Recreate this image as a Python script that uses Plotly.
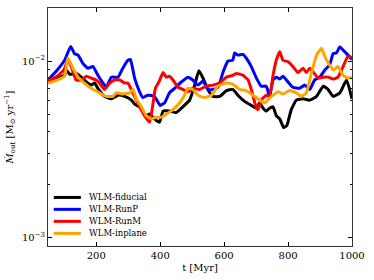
import plotly.graph_objects as go

# ---- data ----
t_fid = [49, 80, 101, 106, 117, 137, 153, 169, 184, 195, 205, 226, 247, 268, 289, 310, 320, 336, 356, 367,
         377, 388, 398, 409, 429, 450, 471, 492, 508, 521, 534, 549, 565, 586, 607, 627, 643, 664, 685, 701,
         711, 722, 732, 742, 753, 763, 774, 786, 796, 810, 826, 847, 868, 889, 910, 925, 941, 962, 983, 1000]
m_fid = [0.0077, 0.0080, 0.0083, 0.0089, 0.0084, 0.0085, 0.0081, 0.0076, 0.0073, 0.0075, 0.0070, 0.0063,
         0.0061, 0.0064, 0.0063, 0.0060, 0.0057, 0.0055, 0.0049, 0.0050, 0.0048, 0.0046, 0.0045, 0.0052,
         0.0052, 0.0051, 0.0055, 0.0060, 0.0073, 0.0088, 0.0080, 0.0069, 0.0063, 0.0063, 0.0068, 0.0069,
         0.0064, 0.0059, 0.0056, 0.0054, 0.0058, 0.0054, 0.0052, 0.0054, 0.0055, 0.0049, 0.0047, 0.0042,
         0.0043, 0.0053, 0.0060, 0.0061, 0.0060, 0.0063, 0.0072, 0.0069, 0.0063, 0.0066, 0.0078, 0.0061]

t_runp = [49, 78, 101, 120, 132, 143, 158, 174, 190, 205, 221, 231, 247, 268, 283, 299, 307, 320, 334, 346,
          361, 382, 400, 414, 429, 445, 466, 487, 502, 518, 534, 549, 565, 581, 597, 612, 627, 633, 643, 659,
          669, 685, 701, 716, 732, 742, 753, 763, 774, 784, 800, 815, 836, 852, 868, 883, 899, 915, 930, 941,
          951, 962, 977, 1000]
m_runp = [0.0078, 0.0089, 0.0101, 0.0121, 0.0110, 0.0108, 0.0097, 0.0091, 0.0093, 0.0083, 0.0075, 0.0071,
          0.0081, 0.0081, 0.0091, 0.0101, 0.0102, 0.0080, 0.0068, 0.0062, 0.0064, 0.0063, 0.0056, 0.0058,
          0.0066, 0.0070, 0.0076, 0.0081, 0.0078, 0.0073, 0.0077, 0.0069, 0.0069, 0.0071, 0.0087, 0.0100,
          0.0101, 0.0111, 0.0108, 0.0109, 0.0104, 0.0093, 0.0080, 0.0072, 0.0072, 0.0063, 0.0078, 0.0081,
          0.0079, 0.0082, 0.0076, 0.0071, 0.0070, 0.0073, 0.0069, 0.0078, 0.0081, 0.0089, 0.0095, 0.0110,
          0.0111, 0.0120, 0.0113, 0.0102]

t_runm = [49, 78, 99, 111, 122, 137, 153, 169, 184, 200, 210, 226, 242, 257, 273, 289, 299, 314, 336, 351,
          367, 379, 385, 396, 409, 419, 429, 440, 456, 471, 487, 502, 523, 544, 565, 586, 607, 627, 638, 659,
          675, 685, 701, 706, 716, 732, 742, 753, 763, 774, 784, 800, 815, 831, 847, 857, 868, 878, 894, 910,
          925, 941, 956, 972, 987, 1000]
m_runm = [0.0077, 0.0082, 0.0089, 0.0101, 0.0093, 0.0078, 0.0078, 0.0082, 0.0080, 0.0078, 0.0075, 0.0069,
          0.0075, 0.0078, 0.0078, 0.0075, 0.0075, 0.0066, 0.0055, 0.0049, 0.0045, 0.0060, 0.0070, 0.0076,
          0.0086, 0.0081, 0.0082, 0.0078, 0.0071, 0.0069, 0.0067, 0.0070, 0.0069, 0.0072, 0.0073, 0.0075,
          0.0081, 0.0083, 0.0085, 0.0083, 0.0078, 0.0069, 0.0054, 0.0053, 0.0060, 0.0064, 0.0063, 0.0083,
          0.0101, 0.0113, 0.0101, 0.0099, 0.0093, 0.0086, 0.0091, 0.0086, 0.0091, 0.0087, 0.0080, 0.0081,
          0.0081, 0.0079, 0.0081, 0.0093, 0.0106, 0.0105]

t_inpl = [49, 78, 101, 111, 127, 143, 163, 184, 210, 231, 252, 263, 283, 304, 315, 325, 341, 356, 372, 388,
          403, 419, 440, 461, 476, 487, 502, 518, 539, 560, 581, 607, 627, 648, 669, 690, 711, 727, 748, 769,
          784, 805, 826, 841, 857, 873, 889, 905, 915, 930, 941, 956, 972, 987, 1000]
m_inpl = [0.0075, 0.0078, 0.0082, 0.0104, 0.0091, 0.0081, 0.0075, 0.0070, 0.0066, 0.0063, 0.0063, 0.0066,
          0.0065, 0.0066, 0.0069, 0.0061, 0.0055, 0.0049, 0.0047, 0.0048, 0.0048, 0.0050, 0.0053, 0.0058,
          0.0064, 0.0070, 0.0069, 0.0064, 0.0062, 0.0064, 0.0072, 0.0075, 0.0074, 0.0069, 0.0068, 0.0064,
          0.0060, 0.0058, 0.0063, 0.0067, 0.0065, 0.0068, 0.0066, 0.0063, 0.0066, 0.0085, 0.0108, 0.0118,
          0.0106, 0.0095, 0.0089, 0.0093, 0.0083, 0.0080, 0.0081]

series_names = ["WLM-fiducial", "WLM-RunP", "WLM-RunM", "WLM-inplane"]
series_colors = ["black", "#0000ff", "#ff0000", "#ffa500"]

x_ticks = [200, 400, 600, 800, 1000]
y_major = [1e-3, 1e-2]
y_major_text = ["10<sup>\u22123</sup>", "10<sup>\u22122</sup>"]
y_minor = [2e-3, 3e-3, 4e-3, 5e-3, 6e-3, 7e-3, 8e-3, 9e-3, 2e-2]

FONT = "DejaVu Serif"

fig = go.Figure()
for name, color, xs, ys in zip(series_names, series_colors,
                               [t_fid, t_runp, t_runm, t_inpl],
                               [m_fid, m_runp, m_runm, m_inpl]):
    fig.add_trace(go.Scatter(x=xs, y=ys, mode="lines", name=name, showlegend=False,
                             line=dict(color=color, width=3, shape="spline", smoothing=0.4)))

# legend drawn as paper-coordinate samples + labels (compact matplotlib-like spacing)
leg_y = [0.204, 0.154, 0.1036, 0.053]
for name, color, yy in zip(series_names, series_colors, leg_y):
    fig.add_shape(type="line", xref="paper", yref="paper", x0=0.019, x1=0.108, y0=yy, y1=yy,
                  line=dict(color=color, width=3))
    fig.add_annotation(xref="paper", yref="paper", x=0.127, y=yy, text=name, showarrow=False,
                       xanchor="left", yanchor="middle", font=dict(family=FONT, size=8.5, color="black"))

fig.update_layout(
    width=374, height=280,
    margin=dict(l=48, r=22, t=8, b=34),
    paper_bgcolor="white", plot_bgcolor="white",
    font=dict(family=FONT, size=10, color="black"),
    showlegend=False,
)
fig.update_xaxes(
    range=[49, 1000], tickmode="array", tickvals=x_ticks,
    ticks="inside", ticklen=4, tickcolor="black", showgrid=False, zeroline=False,
    showline=True, linecolor="#333", linewidth=1, mirror="ticks",
    tickfont=dict(family=FONT, size=10),
    title=dict(text="t [Myr]", font=dict(family=FONT, size=10), standoff=3),
)
fig.update_yaxes(
    type="log", range=[-3.049, -1.6994], tickmode="array", tickvals=y_major, ticktext=y_major_text,
    ticks="inside", ticklen=4, tickcolor="black", showgrid=False, zeroline=False,
    showline=True, linecolor="#333", linewidth=1, mirror="ticks",
    tickfont=dict(family=FONT, size=10),
    minor=dict(tickmode="array", tickvals=y_minor, ticks="inside", ticklen=2, tickcolor="black", showgrid=False),
    title=dict(text="<i>\u1E40</i><sub>out</sub> [M<sub>\u2299</sub> yr<sup>\u22121</sup>]",
               font=dict(family=FONT, size=10), standoff=6),
)

fig.write_html("out.html", config={"displayModeBar": False},
               post_script="document.body.style.margin='0';")
